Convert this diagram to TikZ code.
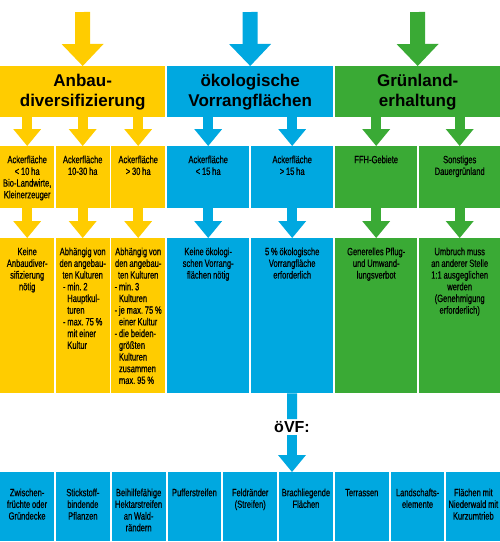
\documentclass[tikz,border=0pt]{standalone}
\usepackage{fontspec}
\setmainfont{Liberation Sans}
\newfontfamily\cellfont[FakeStretch=0.72, FakeBold=0.6]{Liberation Sans}
\usetikzlibrary{arrows.meta}
\definecolor{AnbauYellow}{RGB}{255,204,0}
\definecolor{AreaBlue}{RGB}{0,168,224}
\definecolor{GrassGreen}{RGB}{58,170,53}

\begin{document}
\begin{tikzpicture}[x=1pt, y=-1pt,
    head/.style={anchor=north west, inner sep=0pt, minimum height=51pt, align=center,
      font=\bfseries\fontsize{17}{20}\selectfont},
    cell/.style={anchor=north west, inner sep=0pt, align=center, text height=17pt,
      font=\cellfont\fontsize{10.5}{11.7}\selectfont,
      execute at begin node={\spaceskip=1.8pt\xspaceskip=1.8pt\relax}},
    sizecell/.style={cell, text width=#1, text depth=45pt},
    rulecell/.style={cell, text width=#1, text depth=138pt},
    bigarrow/.style={line width=15pt, -{Triangle[length=22pt, width=42pt, line width=0pt]}},
    smallarrow/.style={line width=10pt, -{Triangle[length=17pt, width=28pt, line width=0pt]}}]
  \useasboundingbox (0,0) rectangle (500,542);

  % three measures
  \node[head, fill=AnbauYellow, minimum width=165pt] (anbau) at (0,66) {Anbau-\\diversifizierung};
  \node[head, fill=AreaBlue, minimum width=166pt] (oevf) at (167,66) {ökologische\\Vorrangflächen};
  \node[head, fill=GrassGreen, minimum width=165pt] (gruen) at (335,66) {Grünland-\\erhaltung};
  \coordinate (ytop) at (82.5,12);
  \coordinate (btop) at (250,12);
  \coordinate (gtop) at (417.5,12);
  \draw[bigarrow, AnbauYellow] (ytop) -- (anbau.north);
  \draw[bigarrow, AreaBlue] (btop) -- (oevf.north);
  \draw[bigarrow, GrassGreen] (gtop) -- (gruen.north);

  % farm sizes
  \node[sizecell=54pt, fill=AnbauYellow] (ys1) at (0,146) {Ackerfläche\\< 10 ha\\Bio-Landwirte,\\Kleinerzeuger};
  \node[sizecell=54pt, fill=AnbauYellow] (ys2) at (55.5,146) {Ackerfläche\\10-30 ha};
  \node[sizecell=54pt, fill=AnbauYellow] (ys3) at (111,146) {Ackerfläche\\> 30 ha};
  \node[sizecell=82pt, fill=AreaBlue] (bs1) at (167,146) {Ackerfläche\\< 15 ha};
  \node[sizecell=82pt, fill=AreaBlue] (bs2) at (251,146) {Ackerfläche\\> 15 ha};
  \node[sizecell=82pt, fill=GrassGreen] (gs1) at (335,146) {FFH-Gebiete};
  \node[sizecell=81pt, fill=GrassGreen] (gs2) at (419,146) {Sonstiges\\Dauergrünland};

  % rules
  \node[rulecell=54pt, fill=AnbauYellow] (yr1) at (0,238) {Keine\\Anbaudiver-\\sifizierung\\nötig};
  \node[rulecell=54pt, fill=AnbauYellow] (yr2) at (55.5,238) {Abhängig von\\den angebau-\\ten Kulturen\\
    \begin{tabular}[t]{@{}l@{\,}l@{}}-&min. 2\\&Hauptkul-\\&turen\\-&max. 75\,\%\\&mit einer\\&Kultur\end{tabular}};
  \node[rulecell=54pt, fill=AnbauYellow] (yr3) at (111,238) {Abhängig von\\den angebau-\\ten Kulturen\\
    \begin{tabular}[t]{@{}l@{\,}l@{}}-&min. 3\\&Kulturen\\-&je max. 75\,\%\\&einer Kultur\\-&die beiden-\\&größten\\&Kulturen\\&zusammen\\&max. 95\,\%\end{tabular}};
  \node[rulecell=82pt, fill=AreaBlue] (br1) at (167,238) {Keine ökologi-\\schen Vorrang-\\flächen nötig};
  \node[rulecell=82pt, fill=AreaBlue] (br2) at (251,238) {5\,\% ökologische\\Vorrangfläche\\erforderlich};
  \node[rulecell=82pt, fill=GrassGreen] (gr1) at (335,238) {Generelles Pflug-\\und Umwand-\\lungsverbot};
  \node[rulecell=81pt, fill=GrassGreen] (gr2) at (419,238) {Umbruch muss\\an anderer Stelle\\1:1 ausgeglichen\\werden\\(Genehmigung\\erforderlich)};

  \foreach \s/\top/\c in {ys1/anbau/AnbauYellow, ys2/anbau/AnbauYellow, ys3/anbau/AnbauYellow,
      bs1/oevf/AreaBlue, bs2/oevf/AreaBlue, gs1/gruen/GrassGreen, gs2/gruen/GrassGreen}
    \draw[smallarrow, \c] (\top.south -| \s) -- (\s.north);
  \foreach \s/\r/\c in {ys1/yr1/AnbauYellow, ys2/yr2/AnbauYellow, ys3/yr3/AnbauYellow,
      bs1/br1/AreaBlue, bs2/br2/AreaBlue, gs1/gr1/GrassGreen, gs2/gr2/GrassGreen}
    \draw[smallarrow, \c] (\s.south) -- (\r.north);

  % oeVF types
  \foreach \txt [count=\i from 0] in {{Zwischen-\\früchte oder\\Gründecke}, {Stickstoff-\\bindende\\Pflanzen},
      {Beihilfefähige\\Hektarstreifen\\an Wald-\\rändern}, {Pufferstreifen}, {Feldränder\\(Streifen)},
      {Brachliegende\\Flächen}, {Terrassen}, {Landschafts-\\elemente}, {Flächen mit\\Niederwald mit\\Kurzumtrieb}}
    \node[cell, fill=AreaBlue, text width=53.78pt, text height=24pt, text depth=45pt] (m\i) at (\i*55.78,472) {\txt};

  \node[inner sep=2pt, font=\bfseries\fontsize{16}{18}\selectfont] (ovf) at (292,427) {öVF:};
  \draw[line width=10pt, AreaBlue] (br2.south) -- (ovf.north);
  \draw[smallarrow, AreaBlue] (ovf.south) -- (ovf.south |- m5.north);
\end{tikzpicture}
\end{document}
